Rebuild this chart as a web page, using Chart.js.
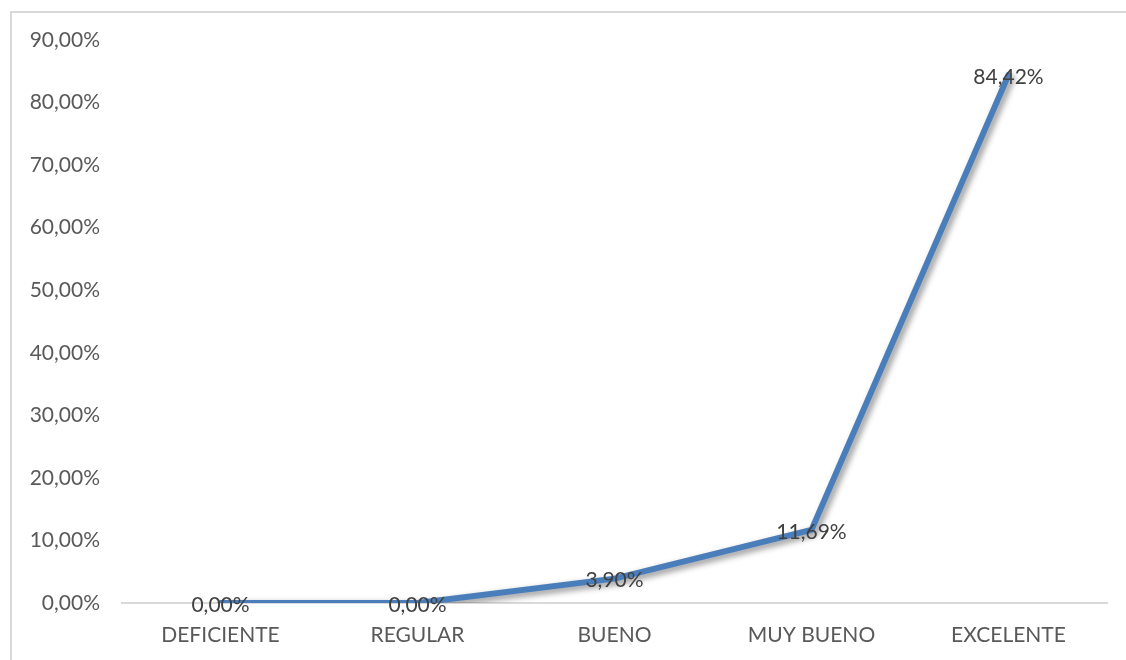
<!DOCTYPE html>
<html>
<head>
<meta charset="utf-8">
<script src="https://cdn.jsdelivr.net/npm/chart.js@4.4.1/dist/chart.umd.min.js"></script>
<style>
  html, body { margin: 0; padding: 0; background: #fff; }
  #wrap { position: relative; width: 1126px; height: 660px; }
  #frame { position: absolute; left: 10px; top: 11px; right: 0; bottom: -5px;
           border-left: 2px solid #d9d9d9; border-top: 2px solid #d9d9d9; }
  canvas { position: absolute; left: 0; top: 0; }
</style>
</head>
<body>
<div id="wrap">
  <div id="frame"></div>
  <canvas id="myLineChart" width="1126" height="660"></canvas>
</div>
<script>
// chart values
var categories = ["DEFICIENTE", "REGULAR", "BUENO", "MUY BUENO", "EXCELENTE"];
var percentValues = [0.00, 0.00, 3.90, 11.69, 84.42];
var yTickValues = [0, 10, 20, 30, 40, 50, 60, 70, 80, 90];

function formatPct(v){
    return v.toFixed(2).replace(".", ",") + "%";
}

Chart.defaults.font.family = "Lato, 'Open Sans', sans-serif";
Chart.defaults.font.size = 21;

// soft shadow under the line, like the original
var shadowPlugin = {
    id: "lineShadow",
    beforeDatasetDraw: function(chart){
        var c = chart.ctx;
        c.save();
        c.shadowColor = "rgba(0,0,0,0.45)";
        c.shadowBlur = 6;
        c.shadowOffsetX = 3;
        c.shadowOffsetY = 3;
    },
    afterDatasetDraw: function(chart){
        chart.ctx.restore();
    }
};

// value labels centred on each point
var valueLabels = {
    id: "valueLabels",
    afterDatasetsDraw: function(chart){
        var c = chart.ctx;
        var meta = chart.getDatasetMeta(0);
        c.save();
        c.font = "21px Lato, 'Open Sans', sans-serif";
        c.fillStyle = "#404040";
        c.textAlign = "center";
        c.textBaseline = "middle";
        for(var i = 0; i < meta.data.length; i++){
            var pt = meta.data[i];
            c.fillText(formatPct(percentValues[i]), pt.x, pt.y + 2);
        }
        c.restore();
    }
};

const ctx = document.getElementById("myLineChart");

new Chart(ctx, {
    type: "line",
    data: {
        labels: categories,
        datasets: [{
            data: percentValues,
            borderColor: "#4a7ebb",
            borderWidth: 6,
            borderJoinStyle: "round",
            borderCapStyle: "round",
            pointRadius: 0,
            pointHoverRadius: 0,
            tension: 0,
            fill: false
        }]
    },
    options: {
        responsive: false,
        animation: false,
        layout: { padding: { top: 40, right: 19, bottom: 0, left: 0 } },
        plugins: {
            legend: { display: false },
            tooltip: { enabled: false }
        },
        scales: {
            x: {
                offset: true,
                afterFit: function(scale){ scale.height = 57; },
                grid: { display: false, drawTicks: false },
                border: { display: true, color: "#d9d9d9", width: 2 },
                ticks: { color: "#595959", padding: 20 }
            },
            y: {
                min: 0,
                max: 90,
                afterBuildTicks: function(scale){
                    scale.ticks = yTickValues.map(function(v){ return { value: v }; });
                },
                afterFit: function(scale){ scale.width = 122; },
                grid: { display: false, drawTicks: false },
                border: { display: false },
                ticks: {
                    color: "#595959",
                    padding: 22,
                    callback: function(v){ return formatPct(v); }
                }
            }
        }
    },
    plugins: [shadowPlugin, valueLabels]
});
</script>
</body>
</html>
